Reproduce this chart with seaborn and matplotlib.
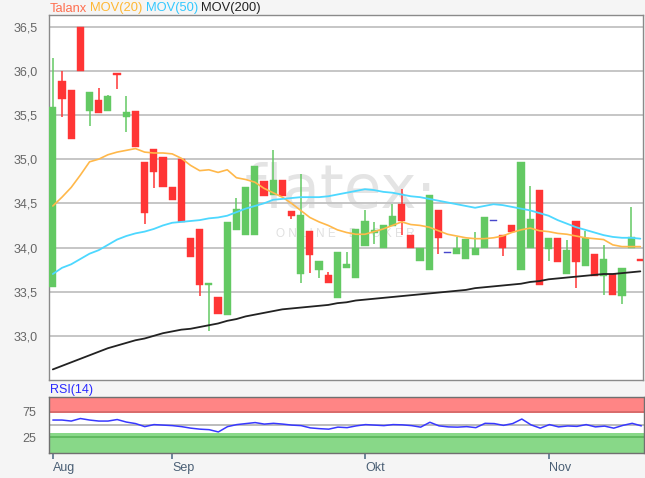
import numpy as np
import pandas as pd
import matplotlib
matplotlib.use('Agg')
import matplotlib.pyplot as plt
import seaborn as sns

sns.set_style('white')
plt.rcParams['font.family'] = ['Liberation Sans', 'DejaVu Sans']

# Tageskerzen Talanx (Aug - Nov)
opens = [33.55, 35.88, 35.78, 36.50, 35.55, 35.67, 35.54, 35.97, 35.48, 35.54,
         34.97, 35.11, 35.03, 34.69, 35.00, 34.11, 34.21, 33.58, 33.44, 33.24,
         34.20, 34.14, 34.14, 34.75, 34.59, 34.76, 34.41, 33.70, 34.19, 33.75,
         33.69, 33.43, 33.77, 33.65, 34.02, 34.16, 34.00, 34.24, 34.49, 34.14,
         33.85, 33.74, 34.43, 33.94, 33.93, 33.87, 33.92, 34.00, 34.30, 34.14,
         34.25, 33.74, 34.00, 34.65, 33.98, 34.11, 33.70, 34.30, 33.79, 33.93,
         33.68, 33.70, 33.45, 34.00, 33.87]
closes = [35.59, 35.68, 35.23, 36.00, 35.76, 35.52, 35.72, 35.95, 35.53, 35.14,
          34.39, 34.85, 34.69, 34.54, 34.29, 33.89, 33.58, 33.60, 33.25, 34.29,
          34.44, 34.68, 34.92, 34.58, 34.76, 34.58, 34.36, 34.37, 33.92, 33.85,
          33.60, 33.95, 33.81, 34.21, 34.30, 34.20, 34.25, 34.36, 34.30, 34.00,
          34.00, 34.60, 34.11, 33.94, 33.99, 34.10, 33.99, 34.34, 34.30, 34.00,
          34.17, 34.97, 34.32, 33.58, 34.11, 33.84, 33.97, 33.84, 34.11, 33.68,
          33.87, 33.46, 33.77, 34.12, 33.85]
highs = [36.15, 36.00, 35.78, 36.50, 35.76, 35.81, 35.73, 35.97, 35.72, 35.54,
         34.97, 35.11, 35.03, 34.69, 35.00, 34.11, 34.21, 33.60, 33.44, 34.29,
         34.56, 34.68, 34.92, 34.75, 35.10, 34.76, 34.41, 34.83, 34.19, 33.85,
         33.72, 33.95, 33.95, 34.21, 34.42, 34.29, 34.25, 34.49, 34.66, 34.14,
         34.00, 34.60, 34.43, 33.94, 34.12, 34.10, 34.18, 34.34, 34.30, 34.14,
         34.25, 34.97, 34.70, 34.65, 34.11, 34.11, 34.09, 34.30, 34.19, 33.93,
         34.03, 33.70, 33.77, 34.46, 33.87]
lows = [33.55, 35.48, 35.23, 36.00, 35.37, 35.52, 35.54, 35.79, 35.31, 35.14,
        34.27, 34.67, 34.69, 34.54, 34.29, 33.89, 33.45, 33.05, 33.25, 33.24,
        34.20, 34.14, 34.14, 34.58, 34.59, 34.58, 34.32, 33.60, 33.71, 33.65,
        33.60, 33.43, 33.77, 33.65, 34.02, 34.04, 34.00, 34.24, 34.14, 34.00,
        33.85, 33.74, 33.93, 33.94, 33.93, 33.87, 33.92, 34.00, 34.30, 33.90,
        34.17, 33.74, 34.00, 33.58, 33.85, 33.84, 33.70, 33.54, 33.79, 33.68,
        33.46, 33.46, 33.36, 34.00, 33.85]

mov20 = [34.47, 34.57, 34.68, 34.82, 34.97, 35.00, 35.05, 35.08, 35.10, 35.12,
         35.08, 35.07, 35.07, 35.06, 35.01, 34.93, 34.87, 34.88, 34.85, 34.88,
         34.79, 34.77, 34.74, 34.67, 34.62, 34.57, 34.50, 34.42, 34.34, 34.29,
         34.25, 34.20, 34.17, 34.15, 34.15, 34.18, 34.21, 34.25, 34.29, 34.26,
         34.25, 34.23, 34.19, 34.15, 34.13, 34.11, 34.10, 34.10, 34.11, 34.13,
         34.17, 34.20, 34.22, 34.19, 34.18, 34.16, 34.15, 34.13, 34.11, 34.10,
         34.09, 34.03, 34.01, 34.01, 34.01]
mov50 = [33.70, 33.77, 33.81, 33.87, 33.93, 33.97, 34.03, 34.09, 34.13, 34.16,
         34.18, 34.21, 34.25, 34.28, 34.29, 34.30, 34.31, 34.33, 34.34, 34.36,
         34.40, 34.44, 34.47, 34.50, 34.54, 34.55, 34.56, 34.57, 34.57, 34.57,
         34.58, 34.60, 34.62, 34.64, 34.66, 34.65, 34.63, 34.62, 34.60, 34.58,
         34.57, 34.55, 34.53, 34.51, 34.49, 34.47, 34.45, 34.47, 34.49, 34.48,
         34.46, 34.44, 34.42, 34.39, 34.36, 34.31, 34.27, 34.23, 34.20, 34.17,
         34.14, 34.12, 34.11, 34.11, 34.10]
mov200 = [32.62, 32.66, 32.70, 32.74, 32.78, 32.82, 32.86, 32.89, 32.92, 32.95,
          32.97, 33.00, 33.03, 33.05, 33.07, 33.08, 33.10, 33.12, 33.14, 33.17,
          33.19, 33.22, 33.24, 33.26, 33.28, 33.30, 33.31, 33.32, 33.33, 33.34,
          33.35, 33.37, 33.38, 33.40, 33.41, 33.42, 33.43, 33.44, 33.45, 33.46,
          33.47, 33.48, 33.49, 33.50, 33.51, 33.52, 33.54, 33.55, 33.56, 33.57,
          33.58, 33.59, 33.61, 33.62, 33.64, 33.65, 33.66, 33.67, 33.68, 33.69,
          33.70, 33.70, 33.71, 33.72, 33.73]
rsi = [59, 59, 57, 62, 59, 57, 57, 60, 55, 52,
       46, 50, 49, 48, 46, 43, 41, 40, 35.5, 46,
       50, 52, 54, 51, 52.5, 51, 49, 48, 43.5, 42,
       41, 45, 44, 47.5, 50, 49, 48, 50, 49.5, 48,
       45, 54.6, 47.5, 45.5, 45, 46, 44, 52.5, 52, 48.5,
       52, 61, 49.5, 43, 50, 45.5, 47.3, 46.5, 50, 45.5,
       47, 43, 48.5, 52.5, 47.5]

month_labels = ['Aug', 'Sep', 'Okt', 'Nov']
month_starts = [0, 13, 34, 54]

df = pd.DataFrame({'tag': np.arange(len(opens)), 'open': opens, 'close': closes,
                   'high': highs, 'low': lows, 'mov20': mov20, 'mov50': mov50,
                   'mov200': mov200, 'rsi': rsi})

GREEN, RED, BLUE = '#63c963', '#ff3535', '#4848cc'
df['farbe'] = np.where(df['close'] > df['open'], GREEN,
                       np.where(df['close'] < df['open'], RED, BLUE))
df['body'] = (df['close'] - df['open']).abs().clip(lower=0.014)
df['unten'] = df[['open', 'close']].min(axis=1)

fig = plt.figure(figsize=(6.45, 4.78), dpi=100, facecolor='#f5f5f5')
ax = fig.add_axes([0.0752, 0.205, 0.9217, 0.7636])
ax_rsi = fig.add_axes([0.0752, 0.053, 0.9233, 0.117], sharex=ax)

# Wasserzeichen (flatex)
ax.text(0.492, 0.47, 'flatex·', transform=ax.transAxes, ha='center', va='baseline',
        fontsize=44, color='#e4e4e4', family='DejaVu Sans', zorder=0.5)
ax.text(0.499, 0.40, 'O N L I N E    B R O K E R', transform=ax.transAxes,
        ha='center', va='center', fontsize=8.5, color='#e0e0e0', zorder=0.5)

# Kerzen
ax.vlines(df['tag'], df['low'], df['high'], colors=df['farbe'], lw=1.1, zorder=2)
ax.bar(df['tag'], df['body'], bottom=df['unten'], width=0.78, color=df['farbe'],
       edgecolor=df['farbe'], linewidth=0.3, zorder=3)

sns.lineplot(data=df, x='tag', y='mov20', ax=ax, color='#ffb84a', lw=1.2, zorder=4)
sns.lineplot(data=df, x='tag', y='mov50', ax=ax, color='#4dd8ff', lw=1.3, zorder=4)
sns.lineplot(data=df, x='tag', y='mov200', ax=ax, color='#222222', lw=1.3, zorder=4)

ax.set_xlim(-0.47, 64.29)
ax.set_ylim(32.5, 36.632)
yt = np.arange(33.0, 36.51, 0.5)
ax.set_yticks(yt)
ax.set_yticklabels([f'{v:.1f}'.replace('.', ',') for v in yt])
ax.yaxis.grid(True, color='#c2c2c2', lw=1.3)
ax.set_axisbelow(True)
ax.tick_params(axis='y', length=0, pad=8, labelsize=9, labelcolor='#666666')
ax.tick_params(axis='x', length=0, labelbottom=False)
ax.set_xlabel('')
ax.set_ylabel('')
for side in ['left', 'right', 'top', 'bottom']:
    ax.spines[side].set_color('#8a8a8a')
    ax.spines[side].set_linewidth(1.0)

# Legende oben
t = fig.text(50 / 645, 1 - 8.5 / 478, 'Talanx', color='#ff6e4f', fontsize=9.3, va='center')
for name, col in [('MOV(20)', '#ffb733'), ('MOV(50)', '#33c8ff'), ('MOV(200)', '#222222')]:
    t = ax.annotate(name, xy=(1, 0), xycoords=t, xytext=(3, 0), textcoords='offset pixels',
                    va='bottom', color=col, fontsize=9.3, annotation_clip=False)

# RSI
ax_rsi.axhspan(73.6, 106, color='#ff8585', lw=0, zorder=0)
ax_rsi.axhspan(-6, 33, color='#88d888', lw=0, zorder=0)
ax_rsi.axhline(75, color='#d66a6a', lw=1.3, zorder=1)
ax_rsi.axhline(25, color='#5db75d', lw=1.3, zorder=1)
ax_rsi.axhline(50, color='#aaaaaa', lw=1.1, zorder=1)
sns.lineplot(data=df, x='tag', y='rsi', ax=ax_rsi, color='#3838ff', lw=1.1, zorder=3)
ax_rsi.set_ylim(-5.4, 105)
ax_rsi.set_yticks([25, 75])
ax_rsi.set_yticklabels(['25', '75'])
ax_rsi.tick_params(axis='y', length=0, pad=9, labelsize=9, labelcolor='#666666')
ax_rsi.set_xticks(month_starts)
ax_rsi.set_xticklabels(month_labels, ha='left')
ax_rsi.tick_params(axis='x', length=4, width=1.2, color='#56708a', pad=3,
                   labelsize=9, labelcolor='#4a5f75', bottom=True)
ax_rsi.set_xlabel('')
ax_rsi.set_ylabel('')
for side in ['left', 'right', 'top', 'bottom']:
    ax_rsi.spines[side].set_color('#707070')
    ax_rsi.spines[side].set_linewidth(1.0)
ax_rsi.text(0.002, 1.02, 'RSI(14)', transform=ax_rsi.transAxes, color='#2a2aff',
            fontsize=9, va='bottom', ha='left')

fig.savefig('out.png', dpi=100, facecolor=fig.get_facecolor())
